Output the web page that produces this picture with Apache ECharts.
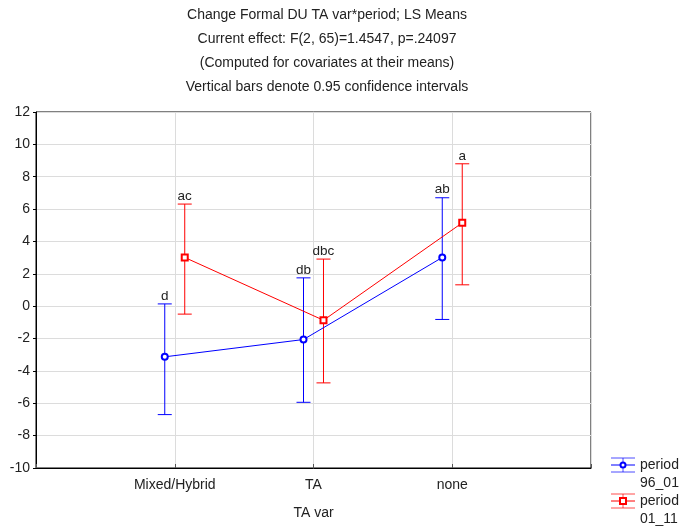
<!DOCTYPE html>
<html>
<head>
<meta charset="utf-8">
<script src="https://cdn.jsdelivr.net/npm/echarts@6/dist/echarts.min.js"></script>
<style>
  html, body { margin: 0; padding: 0; background: #fff; }
  #chart { width: 694px; height: 530px; }
</style>
</head>
<body>
<div id="chart"></div>
<script>
// LS means by TA var for two periods, with 0.95 confidence intervals
const categories = ['Mixed/Hybrid', 'TA', 'none'];
const titleLines = [
  'Change Formal DU TA var*period; LS Means',
  'Current effect: F(2, 65)=1.4547, p=.24097',
  '(Computed for covariates at their means)',
  'Vertical bars denote 0.95 confidence intervals'
];
const yTicks = [-10, -8, -6, -4, -2, 0, 2, 4, 6, 8, 10, 12];

const period96Name = 'period\n96_01';
const period96Mean = [-3.13, -2.06, 3.01];
const period96Low = [-6.70, -5.94, -0.82];
const period96High = [0.14, 1.75, 6.70];
const period96Letters = ['d', 'db', 'ab'];

const period01Name = 'period\n01_11';
const period01Mean = [3.01, -0.87, 5.15];
const period01Low = [-0.49, -4.74, 1.32];
const period01High = [6.31, 2.91, 8.80];
const period01Letters = ['ac', 'dbc', 'a'];

const BLUE = '#0000ff';
const RED = '#ff0000';
const FONT = 'Liberation Sans, Arial, sans-serif';
// horizontal shift of each period around its category, in x-axis units
const SHIFT = 0.072;

function pointData(means, shift) {
  return means.map((m, i) => [i + 1 + shift, m]);
}
function barData(lows, highs, letters, shift) {
  return lows.map((lo, i) => [i + 1 + shift, lo, highs[i], letters[i]]);
}

function errorBarRenderer(color) {
  return function (params, api) {
    const x = api.value(0);
    const lo = api.coord([x, api.value(1)]);
    const hi = api.coord([x, api.value(2)]);
    const half = 7;
    const style = { stroke: color, lineWidth: 1 };
    return {
      type: 'group',
      children: [
        { type: 'line', shape: { x1: lo[0], y1: lo[1], x2: hi[0], y2: hi[1] }, style: style },
        { type: 'line', shape: { x1: hi[0] - half, y1: hi[1], x2: hi[0] + half, y2: hi[1] }, style: style },
        { type: 'line', shape: { x1: lo[0] - half, y1: lo[1], x2: lo[0] + half, y2: lo[1] }, style: style },
        {
          type: 'text',
          style: {
            text: api.value(3), x: hi[0], y: hi[1] - 1,
            align: 'center', verticalAlign: 'bottom',
            fill: '#222', font: '13.5px ' + FONT
          }
        }
      ]
    };
  };
}

function legendItem(top, color, symbol, label) {
  const cx = 623, cy = top;
  const st = { stroke: color, lineWidth: 1, opacity: 0.7 };
  const marker = symbol === 'circle'
    ? { type: 'circle', shape: { cx: cx, cy: cy, r: 2.5 }, style: { fill: '#fff', stroke: color, lineWidth: 2 } }
    : { type: 'rect', shape: { x: cx - 3, y: cy - 3, width: 6, height: 6 }, style: { fill: '#fff', stroke: color, lineWidth: 2 } };
  return [
    { type: 'line', shape: { x1: 611, y1: cy - 7, x2: 635, y2: cy - 7 }, style: st },
    { type: 'line', shape: { x1: 611, y1: cy, x2: 635, y2: cy }, style: { stroke: color, lineWidth: 1 } },
    { type: 'line', shape: { x1: 611, y1: cy + 7, x2: 635, y2: cy + 7 }, style: st },
    { type: 'line', shape: { x1: cx, y1: cy - 7, x2: cx, y2: cy + 7 }, style: st },
    marker,
    {
      type: 'text',
      style: {
        text: label, x: 640, y: cy - 9, align: 'left', verticalAlign: 'top',
        lineHeight: 18, fill: '#222', font: '14px ' + FONT
      }
    }
  ];
}

const chart = echarts.init(document.getElementById('chart'));
chart.setOption({
  animation: false,
  backgroundColor: '#fff',
  title: {
    text: titleLines.join('\n'),
    left: 322,
    textAlign: 'center',
    top: -2,
    textStyle: { fontFamily: FONT, fontSize: 14, fontWeight: 'normal', color: '#222', lineHeight: 24 }
  },
  grid: {
    left: 36, right: 103, top: 112, bottom: 62,
    show: true, borderColor: '#000', borderWidth: 1, backgroundColor: 'transparent'
  },
  xAxis: {
    type: 'value', min: 0, max: 4, interval: 1,
    name: 'TA var', nameLocation: 'middle', nameGap: 38,
    nameTextStyle: { fontFamily: FONT, fontSize: 14, color: '#222' },
    axisLine: { show: true, onZero: false, lineStyle: { color: '#000' } },
    axisTick: { show: true, inside: true, length: 4, lineStyle: { color: '#555' } },
    splitLine: { show: true, lineStyle: { color: '#dcdcdc' } },
    axisLabel: {
      margin: 10, fontFamily: FONT, fontSize: 14, color: '#222',
      formatter: v => (v >= 1 && v <= categories.length ? categories[v - 1] : '')
    }
  },
  yAxis: {
    type: 'value', min: yTicks[0], max: yTicks[yTicks.length - 1], interval: 2,
    axisLine: { show: true, onZero: false, lineStyle: { color: '#000' } },
    axisTick: { show: true, length: 3, lineStyle: { color: '#000' } },
    splitLine: { show: true, lineStyle: { color: '#dcdcdc' } },
    axisLabel: { margin: 6, fontFamily: FONT, fontSize: 14, color: '#222' }
  },
  series: [
    {
      name: period96Name, type: 'custom', z: 3,
      renderItem: errorBarRenderer(BLUE),
      encode: { x: 0, y: [1, 2] },
      data: barData(period96Low, period96High, period96Letters, -SHIFT)
    },
    {
      name: period01Name, type: 'custom', z: 3,
      renderItem: errorBarRenderer(RED),
      encode: { x: 0, y: [1, 2] },
      data: barData(period01Low, period01High, period01Letters, SHIFT)
    },
    {
      name: period96Name, type: 'line', z: 4,
      data: pointData(period96Mean, -SHIFT),
      lineStyle: { color: BLUE, width: 1 },
      symbol: 'circle', symbolSize: 6,
      itemStyle: { color: '#fff', borderColor: BLUE, borderWidth: 2 }
    },
    {
      name: period01Name, type: 'line', z: 4,
      data: pointData(period01Mean, SHIFT),
      lineStyle: { color: RED, width: 1 },
      symbol: 'rect', symbolSize: 6,
      itemStyle: { color: '#fff', borderColor: RED, borderWidth: 2 }
    }
  ],
  graphic: [
    ...legendItem(465, BLUE, 'circle', period96Name),
    ...legendItem(501, RED, 'rect', period01Name)
  ]
});
</script>
</body>
</html>
